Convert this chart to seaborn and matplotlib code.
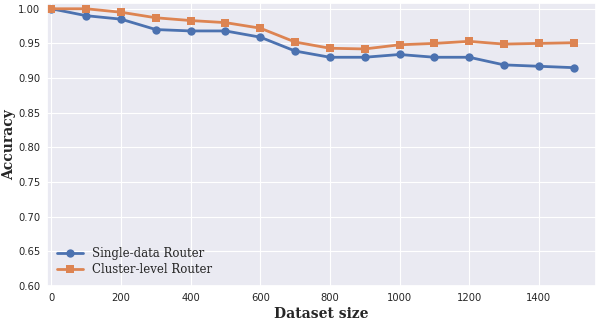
import numpy as np
import pandas as pd
import matplotlib
matplotlib.use("Agg")
import matplotlib.pyplot as plt
import seaborn as sns

# values
dataset_size = [0, 100, 200, 300, 400, 500, 600, 700, 800, 900, 1000, 1100, 1200, 1300, 1400, 1500]
single_acc = [1.000, 0.990, 0.985, 0.970, 0.968, 0.968, 0.959, 0.939, 0.930, 0.930,
              0.934, 0.930, 0.930, 0.919, 0.917, 0.915]
cluster_acc = [1.000, 1.000, 0.995, 0.987, 0.983, 0.980, 0.972, 0.952, 0.943, 0.942,
               0.948, 0.950, 0.953, 0.949, 0.950, 0.951]
series_names = ["Single-data Router", "Cluster-level Router"]

df = pd.DataFrame({
    "size": dataset_size * 2,
    "acc": single_acc + cluster_acc,
    "method": [series_names[0]] * len(dataset_size) + [series_names[1]] * len(dataset_size),
})

sns.set_theme(style="darkgrid")
fig, ax = plt.subplots(figsize=(5.98, 3.23), dpi=100)

sns.lineplot(data=df, x="size", y="acc", hue="method", style="method",
             markers=["o", "s"], dashes=False, linewidth=2, markersize=6,
             markeredgewidth=0, ax=ax)

ax.set_xlim(-12, 1565)
ax.set_ylim(0.6, 1.008)
ax.set_xticks(np.arange(0, 1600, 200))
ax.set_yticks(np.arange(0.60, 1.001, 0.05))
ax.tick_params(labelsize=7.2, length=0, pad=5)
ax.grid(linewidth=0.8)

ax.set_xlabel("Dataset size", fontsize=10, fontweight="bold", family="DejaVu Serif", labelpad=3)
ax.set_ylabel("Accuracy", fontsize=10, fontweight="bold", family="DejaVu Serif", labelpad=1.5)

leg = ax.legend(loc="lower left", frameon=False, prop={"family": "DejaVu Serif", "size": 8.5},
                handlelength=2.2, borderaxespad=0.4, labelspacing=0.3)

plt.subplots_adjust(left=0.079, right=0.997, top=0.99, bottom=0.115)
plt.savefig("out.png", dpi=100)
plt.close("all")
